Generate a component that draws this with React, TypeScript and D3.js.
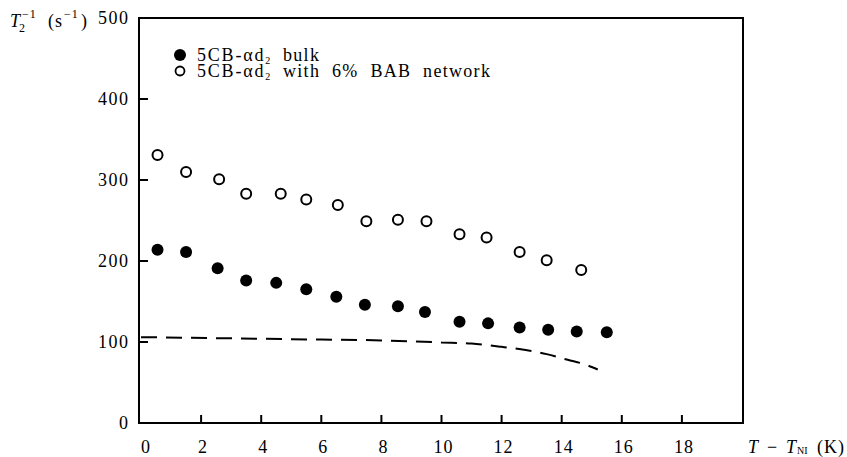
import { useRef, useEffect } from 'react';
import * as d3 from 'd3';

// bulk 5CB-ad2 (filled)
const bulkX = [0.55, 1.5, 2.55, 3.5, 4.5, 5.5, 6.5, 7.45, 8.55, 9.45, 10.6, 11.55, 12.6, 13.55, 14.5, 15.5];
const bulkY = [214, 211, 191, 176, 173, 165, 156, 146, 144, 137, 125, 123, 118, 115, 113, 112];
// with 6% BAB network (open)
const netX = [0.55, 1.5, 2.6, 3.5, 4.65, 5.5, 6.55, 7.5, 8.55, 9.5, 10.6, 11.5, 12.6, 13.5, 14.65];
const netY = [331, 310, 301, 283, 283, 276, 269, 249, 251, 249, 233, 229, 211, 201, 189];
// dashed curve
const dashX = [0, 3, 6, 8, 10, 11, 12, 12.8, 13.5, 14.2, 14.8, 15.2];
const dashY = [106, 104.5, 103, 102, 99.5, 98, 94, 90, 85, 78, 72, 66];

const xTicks = [0, 2, 4, 6, 8, 10, 12, 14, 16, 18];
const yTicks = [0, 100, 200, 300, 400, 500];
const legendLabels = ['bulk', 'with 6% BAB network'];

const FONT = '"Liberation Serif", "Times New Roman", serif';

const App = () => {
    const svgRef = useRef<SVGSVGElement>(null);

    useEffect(() => {
        const w = 847;
        const h = 457;
        const svg = d3.select(svgRef.current)
            .attr('width', w)
            .attr('height', h)
            .style('font-family', FONT);
        svg.selectAll('*').remove();

        const left = 139, right = 743, top = 18, bottom = 423;
        const x = d3.scaleLinear().domain([0, 20]).range([141, 742]);
        const y = d3.scaleLinear().domain([0, 500]).range([bottom, top]);

        // frame
        svg.append('rect')
            .attr('x', left).attr('y', top)
            .attr('width', right - left).attr('height', bottom - top)
            .attr('fill', 'none').attr('stroke', '#000').attr('stroke-width', 2);

        // x ticks (inward)
        svg.selectAll('.xt')
            .data(xTicks.filter(d => d > 0))
            .enter().append('line')
            .attr('x1', d => x(d)).attr('x2', d => x(d))
            .attr('y1', bottom).attr('y2', bottom - 8)
            .attr('stroke', '#000').attr('stroke-width', 2);
        svg.selectAll('.xl')
            .data(xTicks)
            .enter().append('text')
            .attr('x', d => x(d) + (d === 0 ? 5 : 2))
            .attr('y', 453)
            .attr('text-anchor', 'middle')
            .attr('font-size', 18)
            .attr('letter-spacing', 1)
            .text(d => d);

        // y ticks
        svg.selectAll('.yt')
            .data(yTicks.filter(d => d > 0 && d < 500))
            .enter().append('line')
            .attr('x1', left).attr('x2', left + 9)
            .attr('y1', d => y(d)).attr('y2', d => y(d))
            .attr('stroke', '#000').attr('stroke-width', 2);
        svg.selectAll('.yl')
            .data(yTicks)
            .enter().append('text')
            .attr('x', 129.5)
            .attr('y', d => y(d) + 6)
            .attr('text-anchor', 'end')
            .attr('font-size', 18)
            .attr('letter-spacing', 1.5)
            .text(d => d);

        // y axis title
        const yt = svg.append('text').attr('y', 27).attr('font-size', 18);
        yt.append('tspan').attr('x', 10).attr('font-style', 'italic').text('T');
        yt.append('tspan').attr('x', 19).attr('y', 32).attr('font-size', 12).text('2');
        yt.append('tspan').attr('x', 22).attr('y', 18).attr('font-size', 12).attr('letter-spacing', 1).text('−1');
        yt.append('tspan').attr('x', 48).attr('y', 27).attr('letter-spacing', 1).text('(s');
        yt.append('tspan').attr('x', 64).attr('y', 18).attr('font-size', 12).attr('letter-spacing', 1).text('−1');
        yt.append('tspan').attr('x', 81).attr('y', 27).text(')');

        // x axis title
        const xt = svg.append('text').attr('y', 453).attr('font-size', 18);
        xt.append('tspan').attr('x', 748).attr('font-style', 'italic').text('T');
        xt.append('tspan').attr('x', 767).text('−');
        xt.append('tspan').attr('x', 786).attr('font-style', 'italic').text('T');
        xt.append('tspan').attr('x', 797).attr('y', 454).attr('font-size', 10).text('NI');
        xt.append('tspan').attr('x', 817).attr('y', 453).attr('letter-spacing', 1).text('(K)');

        // dashed curve
        const line = d3.line<number>()
            .x((_, i) => x(dashX[i]))
            .y(d => y(d))
            .curve(d3.curveMonotoneX);
        svg.append('path')
            .attr('d', line(dashY))
            .attr('fill', 'none')
            .attr('stroke', '#000')
            .attr('stroke-width', 2)
            .attr('stroke-dasharray', '16 9');

        // points
        svg.selectAll('.net')
            .data(netY)
            .enter().append('circle')
            .attr('cx', (_, i) => x(netX[i]))
            .attr('cy', d => y(d))
            .attr('r', 5)
            .attr('fill', '#fff')
            .attr('stroke', '#000')
            .attr('stroke-width', 2);
        svg.selectAll('.bulk')
            .data(bulkY)
            .enter().append('circle')
            .attr('cx', (_, i) => x(bulkX[i]))
            .attr('cy', d => y(d))
            .attr('r', 6)
            .attr('fill', '#000');

        // legend
        svg.append('circle').attr('cx', 180).attr('cy', 55).attr('r', 6).attr('fill', '#000');
        svg.append('circle').attr('cx', 180).attr('cy', 71).attr('r', 4.5)
            .attr('fill', '#fff').attr('stroke', '#000').attr('stroke-width', 1.8);
        legendLabels.forEach((lab, i) => {
            const base = 61 + i * 16;
            const t = svg.append('text')
                .attr('y', base)
                .attr('font-size', 18);
            t.append('tspan').attr('x', 197).attr('letter-spacing', 1.8).text('5CB-αd');
            t.append('tspan').attr('dy', 3).attr('font-size', 10).text('2');
            t.append('tspan').attr('x', 283).attr('y', base)
                .attr('letter-spacing', 1.3).attr('word-spacing', 6).text(lab);
        });
    }, []);

    return (
        <div style={{ position: 'absolute', left: 0, top: 0 }}>
            <svg ref={svgRef}></svg>
        </div>
    );
};

export default App;
